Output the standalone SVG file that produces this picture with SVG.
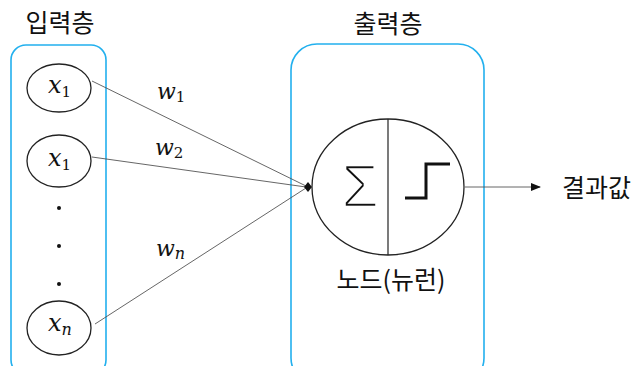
<svg xmlns="http://www.w3.org/2000/svg" width="640" height="366" viewBox="0 0 640 366">
<style>
.box{fill:none;stroke:#22b0ee;stroke-width:1.6}
.node{fill:#fff;stroke:#222;stroke-width:1.3}
.ko{font-family:"Noto Sans CJK KR",sans-serif;fill:#111}
.math{font-family:"DejaVu Serif",serif;font-style:italic;fill:#111}
.sub{font-family:"DejaVu Serif",serif;font-style:normal;fill:#111}
.conn{fill:none;stroke:#555;stroke-width:0.9}
.dot{fill:#111}
</style>
<defs>
<marker id="arr" markerWidth="10" markerHeight="8" refX="9" refY="4" orient="auto" markerUnits="userSpaceOnUse">
<path d="M0,0 L10,4 L0,8 Z" fill="#111"/>
</marker>
</defs>
<rect width="640" height="366" fill="#fff"/>
<g id="input-layer">
<rect class="box" x="11" y="45" width="95" height="330" rx="15"/>
<text class="ko" x="60" y="32" font-size="25" text-anchor="middle">입력층</text>
</g>
<g id="output-layer">
<rect class="box" x="291" y="44" width="193" height="340" rx="26"/>
<text class="ko" x="388" y="33" font-size="25" text-anchor="middle">출력층</text>
</g>
<g id="connectors">
<line class="conn" x1="92" y1="81" x2="306" y2="186"/>
<line class="conn" x1="92" y1="157" x2="306" y2="187"/>
<line class="conn" x1="95" y1="324" x2="306" y2="188"/>
<path d="M308,182 L312,187 L308,192 L304,187 Z" fill="#111"/>
<line class="conn" x1="465" y1="187" x2="540" y2="187" marker-end="url(#arr)"/>
<text class="math" x="157" y="99" font-size="22">w<tspan class="sub" font-size="15" dy="3">1</tspan></text>
<text class="math" x="155" y="155" font-size="22">w<tspan class="sub" font-size="15" dy="3">2</tspan></text>
<text class="math" x="156" y="256" font-size="22">w<tspan font-size="16" dy="3">n</tspan></text>
</g>
<g id="x1">
<ellipse class="node" cx="59" cy="88" rx="32" ry="24"/>
<text class="math" x="48" y="93" font-size="24">x<tspan class="sub" font-size="15" dy="4">1</tspan></text>
</g>
<g id="x2">
<ellipse class="node" cx="59" cy="161" rx="32" ry="26"/>
<text class="math" x="48" y="166" font-size="24">x<tspan class="sub" font-size="15" dy="4">1</tspan></text>
</g>
<g id="dots">
<circle class="dot" cx="59" cy="208" r="2"/>
<circle class="dot" cx="59" cy="246" r="2"/>
<circle class="dot" cx="59" cy="284" r="2"/>
</g>
<g id="xn">
<ellipse class="node" cx="59" cy="328" rx="32" ry="27"/>
<text class="math" x="48" y="331" font-size="24">x<tspan font-size="16" dy="4">n</tspan></text>
</g>
<g id="neuron">
<ellipse class="node" cx="388" cy="187" rx="76" ry="68"/>
<line x1="388" y1="119" x2="388" y2="255" stroke="#222" stroke-width="1.2"/>
<text x="360" y="207" font-family="Liberation Sans,sans-serif" font-size="61" text-anchor="middle" fill="#111" stroke="#fff" stroke-width="2.6">Σ</text>
<path d="M405,198 H426 V164 H450" fill="none" stroke="#111" stroke-width="3"/>
<text class="ko" x="391" y="289" font-size="25" text-anchor="middle">노드(뉴런)</text>
</g>
<g id="result">
<text class="ko" x="562" y="197" font-size="25">결과값</text>
</g>
</svg>
